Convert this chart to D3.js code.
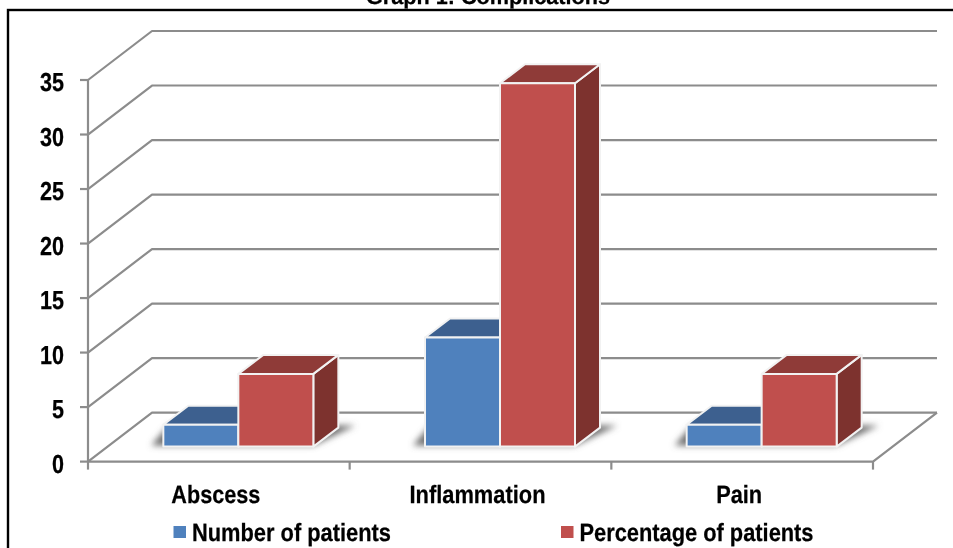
<!doctype html>
<html>
    <head>
        <script src="https://d3js.org/d3.v7.min.js"></script>
        <style>
            html, body { margin: 0; padding: 0; background: #fff; }
            svg { display: block; }
            text { font-family: "Liberation Sans", Arial, sans-serif; font-weight: bold; fill: #000; stroke: #000; stroke-width: 0.25; text-rendering: geometricPrecision; }
        </style>
    </head>
    <body>
        <div id="viz"></div>
        <script>
            var categories = ["Abscess", "Inflammation", "Pain"];
            var seriesNames = ["Number of patients", "Percentage of patients"];
            var numberOfPatients = [2, 10, 2];
            var percentageOfPatients = [6.67, 33.33, 6.67];
            var yTicks = [0, 5, 10, 15, 20, 25, 30, 35];

            var w = 953, h = 548;

            var root = d3.select("#viz").append("svg")
                .attr("width", w)
                .attr("height", h);

            var defs = root.append("defs");
            defs.append("filter")
                .attr("id", "soft")
                .attr("x", "-20%").attr("y", "-60%")
                .attr("width", "140%").attr("height", "220%")
                .append("feGaussianBlur")
                .attr("stdDeviation", 3);
            defs.append("filter")
                .attr("id", "smooth")
                .attr("filterUnits", "userSpaceOnUse")
                .attr("x", 0).attr("y", 0)
                .attr("width", w).attr("height", h)
                .append("feGaussianBlur")
                .attr("stdDeviation", 0.4);

            // the source picture is a soft scan, so everything gets a slight blur
            var svg = root.append("g").attr("filter", "url(#smooth)");

            // frame, open at the right and bottom where the picture is cut
            svg.append("rect")
                .attr("x", 8).attr("y", 10)
                .attr("width", 960).attr("height", 560)
                .attr("fill", "none")
                .attr("stroke", "#000")
                .attr("stroke-width", 2.4);

            // the title sits over the frame and is cut by the top edge in the reference
            svg.append("text")
                .attr("x", 488).attr("y", 4)
                .attr("text-anchor", "middle")
                .attr("font-size", 22)
                .attr("textLength", 244)
                .attr("lengthAdjust", "spacingAndGlyphs")
                .text("Graph 1: Complications");

            var x = d3.scaleBand().domain(categories).range([88, 873]);
            var y = d3.scaleLinear().domain([0, 35]).range([461.6, 80]);

            // 3d offsets
            var backDx = 64, backDy = -49;      // floor depth
            var barShiftX = 19.5, barBaseY = -15; // where the bars stand on the floor
            var barDx = 25, barDy = -19;        // depth of one bar
            var barW = 75;

            var grid = svg.append("g")
                .attr("fill", "none")
                .attr("stroke", "#8c8c8c")
                .attr("stroke-width", 2.2);

            // back wall lines, side wall lines
            grid.selectAll("path.wall")
                .data(yTicks)
                .enter().append("path")
                .attr("class", "wall")
                .attr("stroke-linejoin", "round")
                .attr("d", function (d) {
                    var p = [[x.range()[0], y(d)], [x.range()[0] + backDx, y(d) + backDy], [x.range()[1] + backDx, y(d) + backDy]];
                    return d3.line()(p);
                });

            // floor front and right edges
            grid.append("path")
                .attr("d", d3.line()([[x.range()[0], y(0)], [x.range()[1], y(0)], [x.range()[1] + backDx, y(0) + backDy]]));

            // y axis
            grid.append("path").attr("d", d3.line()([[x.range()[0], y(35)], [x.range()[0], y(0)]]));
            grid.selectAll("path.ytick")
                .data(yTicks)
                .enter().append("path")
                .attr("class", "ytick")
                .attr("d", function (d) { return d3.line()([[x.range()[0] - 8, y(d)], [x.range()[0], y(d)]]); });

            // x ticks on the band edges
            var bandEdges = categories.map(function (c) { return x(c); }).concat([x.range()[1]]);
            grid.selectAll("path.xtick")
                .data(bandEdges)
                .enter().append("path")
                .attr("class", "xtick")
                .attr("d", function (d) { return d3.line()([[d, y(0)], [d, y(0) + 8]]); });

            svg.selectAll("text.ylab")
                .data(yTicks)
                .enter().append("text")
                .attr("class", "ylab")
                .attr("x", 64)
                .attr("y", function (d) { return y(d) + 11; })
                .attr("text-anchor", "end")
                .attr("font-size", 26)
                .attr("textLength", function (d) { return d < 10 ? 12 : 24; })
                .attr("lengthAdjust", "spacingAndGlyphs")
                .text(function (d) { return d; });

            svg.selectAll("text.xlab")
                .data(categories)
                .enter().append("text")
                .attr("class", "xlab")
                .attr("x", function (d) { return x(d) + x.bandwidth() / 2 - 3; })
                .attr("y", 503)
                .attr("text-anchor", "middle")
                .attr("font-size", 25)
                .attr("textLength", function (d, i) { return [89, 136, 46][i]; })
                .attr("lengthAdjust", "spacingAndGlyphs")
                .text(function (d) { return d; });

            var baseY = y(0) + barBaseY;

            // ground shadows
            svg.append("g").selectAll("path")
                .data(categories)
                .enter().append("path")
                .attr("fill", "#6e6e6e")
                .attr("filter", "url(#soft)")
                .attr("d", function (c) {
                    var left = x(c) + x.bandwidth() / 2 + barShiftX - barW;
                    var right = left + 2 * barW;
                    return d3.line()([[left - 12, baseY - 1], [right, baseY - 1], [right + 42, baseY - 21], [left + 5, baseY - 21]]);
                });

            var seriesColors = [
                { front: "#4f81bd", top: "#3c618f", side: "#335277" },
                { front: "#c0504d", top: "#8f3a38", side: "#7d302e" }
            ];
            var series = [numberOfPatients, percentageOfPatients];

            var bars = svg.append("g")
                .attr("stroke", "#f2f2f2")
                .attr("stroke-width", 2)
                .attr("stroke-linejoin", "round");

            series.forEach(function (values, s) {
                categories.forEach(function (c, i) {
                    var left = x(c) + x.bandwidth() / 2 + barShiftX - barW + s * barW;
                    var right = left + barW;
                    var top = y(values[i]) + barBaseY;
                    var col = seriesColors[s];
                    var g = bars.append("g");
                    g.append("path").attr("fill", col.side)
                        .attr("d", d3.line()([[right, top], [right + barDx, top + barDy], [right + barDx, baseY + barDy], [right, baseY]]) + "Z");
                    g.append("path").attr("fill", col.top)
                        .attr("d", d3.line()([[left, top], [left + barDx, top + barDy], [right + barDx, top + barDy], [right, top]]) + "Z");
                    g.append("rect").attr("fill", col.front)
                        .attr("x", left).attr("y", top)
                        .attr("width", barW).attr("height", baseY - top);
                });
            });

            // legend
            var legendX = [173.5, 561];
            var legendW = [199, 234];
            var legend = svg.append("g").selectAll("g")
                .data(seriesNames)
                .enter().append("g");
            legend.append("rect")
                .attr("x", function (d, i) { return legendX[i]; })
                .attr("y", 526)
                .attr("width", 12.5).attr("height", 12)
                .attr("fill", function (d, i) { return seriesColors[i].front; });
            legend.append("text")
                .attr("x", function (d, i) { return legendX[i] + 18.5; })
                .attr("y", 540.5)
                .attr("font-size", 25)
                .attr("textLength", function (d, i) { return legendW[i]; })
                .attr("lengthAdjust", "spacingAndGlyphs")
                .text(function (d) { return d; });
        </script>
    </body>
</html>
